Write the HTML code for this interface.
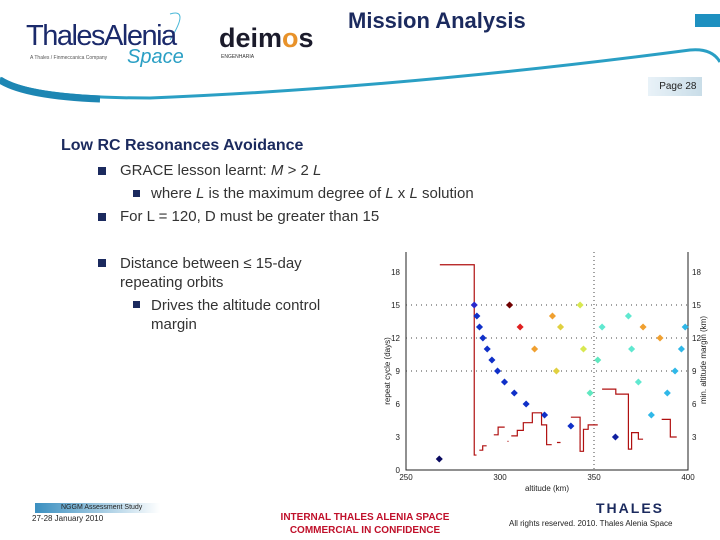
<!DOCTYPE html>
<html><head><meta charset="utf-8"><style>
body{margin:0;width:720px;height:540px;background:#fff;position:relative;overflow:hidden;font-family:"Liberation Sans",sans-serif}
.a{position:absolute;white-space:nowrap}
.t{font-size:15px;color:#333}
.b{position:absolute;width:8px;height:8px;background:#1b2a5e}
.b2{position:absolute;width:7px;height:7px;background:#1b2a5e}
</style></head><body>
<svg class="a" style="left:0;top:0" width="720" height="110">
<path d="M0,78 Q30,98 150,98 Q400,88 690,50 Q712,48 720,62" fill="none" stroke="#2a9fc4" stroke-width="3"/>
<path d="M0,80 Q25,96 100,99" fill="none" stroke="#1d86b3" stroke-width="7"/>
<rect x="695" y="14" width="25" height="13" fill="#1e90c0"/>
<path d="M170,14 Q190,8 170,40" fill="none" stroke="#4ab8d8" stroke-width="1"/>
</svg>
<div class="a" style="left:26px;top:20px;font-size:29px;color:#1b2a6b;letter-spacing:-1.5px">ThalesAlenia</div>
<div class="a" style="left:30px;top:55px;font-size:5px;color:#555">A Thales / Finmeccanica Company</div>
<div class="a" style="left:127px;top:46px;font-size:20px;color:#2a9fc4;font-style:italic">Space</div>
<div class="a" style="left:219px;top:23px;font-size:27px;font-weight:bold;color:#1b1b2b">deim<span style="color:#e8922a">o</span>s</div>
<div class="a" style="left:221px;top:54px;font-size:5px;color:#333">ENGENHARIA</div>
<div class="a" style="left:348px;top:8px;font-size:22px;font-weight:bold;color:#1b2a5e">Mission Analysis</div>
<div class="a" style="left:648px;top:77px;width:54px;height:19px;background:linear-gradient(90deg,#e9f2f8,#c9dde8);font-size:10px;line-height:19px;text-align:right;color:#222">Page 28&nbsp;&nbsp;</div>

<div class="a" style="left:61px;top:137px;font-size:16px;font-weight:bold;color:#1b2a5e">Low RC Resonances Avoidance</div>
<div class="b" style="left:98px;top:167px"></div>
<div class="a t" style="left:120px;top:162px">GRACE lesson learnt: <i>M</i> &gt; 2 <i>L</i></div>
<div class="b2" style="left:133px;top:190px"></div>
<div class="a t" style="left:151px;top:185px">where <i>L</i> is the maximum degree of <i>L</i> x <i>L</i> solution</div>
<div class="b" style="left:98px;top:213px"></div>
<div class="a t" style="left:120px;top:208px">For L = 120, D must be greater than 15</div>
<div class="b" style="left:98px;top:259px"></div>
<div class="a t" style="left:120px;top:254px;line-height:19px">Distance between ≤ 15-day<br>repeating orbits</div>
<div class="b2" style="left:133px;top:301px"></div>
<div class="a t" style="left:151px;top:296px;line-height:19px">Drives the altitude control<br>margin</div>

<svg id="chart" class="a" style="left:0;top:0" width="720" height="540"></svg>

<div class="a" style="left:35px;top:503px;width:125px;height:10px;background:linear-gradient(90deg,#3a8fc0,#fff);font-size:7px;line-height:10px;color:#222;padding-left:26px;box-sizing:border-box">NGGM Assessment Study</div>
<div class="a" style="left:32px;top:514px;font-size:8px;color:#222">27-28 January 2010</div>
<div class="a" style="left:272px;top:511px;font-size:10px;font-weight:bold;color:#c0102a;text-align:center;line-height:13px;width:186px">INTERNAL THALES ALENIA SPACE<br>COMMERCIAL IN CONFIDENCE</div>
<div class="a" style="left:596px;top:500px;font-size:14px;font-weight:bold;color:#1b2a5e;letter-spacing:2px">THALES</div>
<div class="a" style="left:509px;top:519px;font-size:8px;color:#222">All rights reserved. 2010. Thales Alenia Space</div>

<script>
const xTicks=[250,300,350,400];
const yTicks=[0,3,6,9,12,15,18];
const rightTicks=["","3","6","9","12","15","18"];
const ptAlt=[267.7,286.3,287.7,289.1,290.9,293.2,295.7,298.7,302.4,307.6,313.9,323.7,337.7,361.4,305.1,310.7,327.9,318.4,332.2,330.0,342.6,344.4,347.9,352.0,354.3,368.3,370.0,373.6,376.1,385.1,380.5,389.0,393.1,396.5,398.5];
const ptDays=[1,15,14,13,12,11,10,9,8,7,6,5,4,3,15,13,14,11,13,9,15,11,7,10,13,14,11,8,13,12,5,7,9,11,13];
const ptColor=["#0a0a60","#2a2acc","#1030c8","#1030c8","#1030c8","#1030c8","#1030c8","#1030c8","#1030c8","#1030c8","#1030c8","#1030c8","#1030c8","#1020a0","#700000","#e02020","#f0a030","#f0a030","#e0d040","#e0d040","#d8e850","#d8e850","#60e8c0","#60e8c0","#60e8d0","#60e8d0","#60e8d0","#60e8d0","#f0a030","#f0a030","#30b8e8","#30b8e8","#30b8e8","#30b8e8","#30b8e8"];
const stepStart=[268,286.3,289,290.8,296.7,299,304,306,309.2,312.4,317.2,322.1,324.8,330.3,337.7,342.6,344.4,346.9,354.3,361.6,368.3,370,373.6,386,390.6];
const stepEnd=[286.3,287.5,290.8,292.9,299,302.5,304.5,309.2,312.4,317.2,322.1,324.8,327.5,332.2,342.6,344.4,346.9,352,361.6,368.3,370,373.6,376.1,390.6,394];
const stepVal=[18.66,1.36,1.8,2.2,3.2,3.9,2.6,3.1,3.6,4.3,5.2,4.1,2.3,2.5,4.8,1.7,3.7,4.1,7.35,6.9,1.9,3.4,2.8,4.6,3.0];
const svg=document.getElementById('chart');const NS='http://www.w3.org/2000/svg';
const X0=406,X1=688,Y0=470,Y18=272;
const sx=a=>X0+(a-250)/150*(X1-X0);
const sy=d=>Y0-d/18*(Y0-Y18);
function mk(t,at){const e=document.createElementNS(NS,t);for(const k in at)e.setAttribute(k,at[k]);svg.appendChild(e);return e;}
let e;
e=mk('path',{d:`M${X0},${Y18-20}V${Y0}H${X1}V${Y18-20}`,fill:'none',stroke:'#222','stroke-width':1});


[9,12,15].forEach(v=>{e=mk('line',{x1:X0,x2:X1,y1:sy(v),y2:sy(v),stroke:'#444','stroke-dasharray':'1,4'});

});
e=mk('line',{x1:sx(350),x2:sx(350),y1:Y18-20,y2:Y0,stroke:'#444','stroke-dasharray':'1,3'});


yTicks.forEach((v,i)=>{e=mk('text',{x:X0-6,y:sy(v)+3,'font-size':8,'text-anchor':'end',fill:'#222'});e.textContent=v;


e=mk('text',{x:X1+4,y:sy(v)+3,'font-size':8,fill:'#222'});e.textContent=rightTicks[i];

});
xTicks.forEach(v=>{e=mk('text',{x:sx(v),y:Y0+10,'font-size':8,'text-anchor':'middle',fill:'#222'});e.textContent=v;

});
e=mk('text',{x:sx(325),y:Y0+21,'font-size':8,'text-anchor':'middle',fill:'#222'});e.textContent='altitude (km)';


e=mk('text',{x:390,y:sy(9),'font-size':8,'text-anchor':'middle',fill:'#222',transform:`rotate(-90 390 ${sy(9)})`});e.textContent='repeat cycle (days)';


e=mk('text',{x:706,y:sy(10),'font-size':8,'text-anchor':'middle',fill:'#222',transform:`rotate(-90 706 ${sy(10)})`});e.textContent='min. altitude margin (km)';


let d='';
stepStart.forEach((s,i)=>{
  if(i>0 && Math.abs(s-stepEnd[i-1])<0.5){d+=`V${sy(stepVal[i])}H${sx(stepEnd[i])}`;}
  else{d+=`M${sx(s)},${sy(stepVal[i])}H${sx(stepEnd[i])}`;}
});
e=mk('path',{d:d,fill:'none',stroke:'#b01010','stroke-width':1.2});


ptAlt.forEach((a,i)=>{const x=sx(a),y=sy(ptDays[i]);
e=mk('rect',{x:x-2.5,y:y-2.5,width:5,height:5,fill:ptColor[i],transform:`rotate(45 ${x} ${y})`});

});
</script>
</body></html>
